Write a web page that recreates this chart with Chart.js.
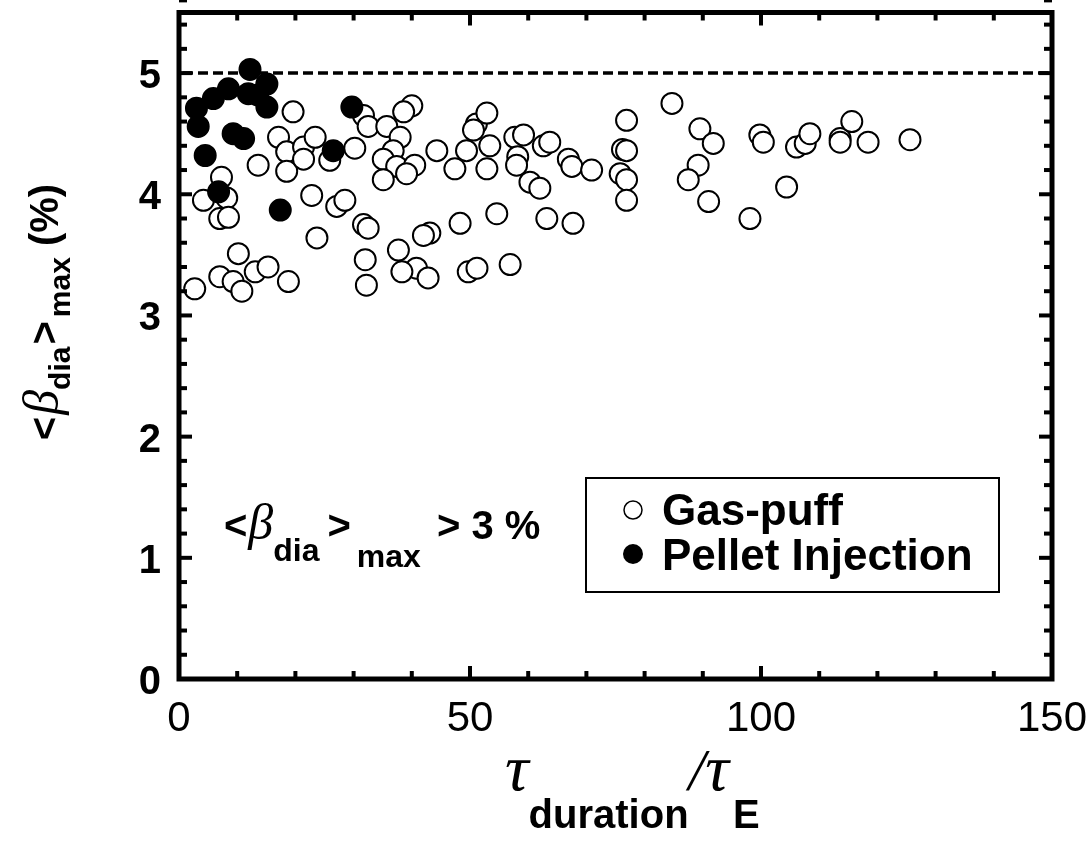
<!DOCTYPE html>
<html><head><meta charset="utf-8">
<script src="https://cdn.jsdelivr.net/npm/chart.js@4/dist/chart.umd.min.js"></script>
<style>html,body{margin:0;padding:0;background:#fff;} #wrap{width:1089px;height:845px;}</style>
</head><body><div id="wrap"><canvas id="c" width="1089" height="845"></canvas></div>
<script>
// Gas-puff discharges (open circles)
const gasX = [19.6,17.1,18.5,13.6,18.5,21.4,23.4,21.4,25.9,7.3,4.2,8.2,7.0,8.5,22.8,27.1,28.5,31.7,32.5,23.7,32.0,32.2,10.2,7.0,9.3,10.8,2.7,13.1,15.3,18.8,31.7,32.5,30.2,
  40.0,38.6,35.7,38.0,36.8,35.1,37.4,40.5,39.1,35.1,44.3,47.4,49.4,51.1,50.6,52.9,53.4,52.9,57.7,59.2,58.2,58.0,60.3,62.0,62.6,63.7,66.9,67.5,70.9,76.9,76.2,76.9,75.8,76.9,76.9,
  54.6,48.3,63.2,67.7,43.1,42.0,37.7,40.8,38.3,42.8,49.7,51.2,56.9,
  84.7,89.5,91.8,89.2,87.5,91.0,98.1,99.8,100.4,104.4,106.1,107.6,108.4,113.6,113.6,115.6,118.4,125.6];
const gasY = [4.68,4.47,4.35,4.24,4.19,4.39,4.47,4.29,4.28,4.14,3.95,3.97,3.80,3.81,3.99,3.90,3.95,3.75,3.72,3.64,3.46,3.25,3.51,3.32,3.28,3.20,3.22,3.36,3.40,3.28,4.65,4.56,4.38,
  4.73,4.68,4.56,4.47,4.36,4.29,4.23,4.24,4.17,4.12,4.36,4.21,4.36,4.58,4.53,4.67,4.40,4.21,4.47,4.49,4.31,4.24,4.10,4.05,4.40,4.43,4.29,4.23,4.20,4.61,4.37,4.36,4.17,4.12,3.95,
  3.84,3.76,3.80,3.76,3.68,3.66,3.54,3.39,3.36,3.31,3.36,3.39,3.42,
  4.75,4.54,4.42,4.24,4.12,3.94,3.80,4.49,4.43,4.06,4.39,4.42,4.50,4.46,4.43,4.60,4.43,4.45];
// Pellet injection discharges (filled circles)
const pelletX = [12.2,15.1,8.5,5.9,3.0,3.3,15.1,11.9,13.5,9.3,11.1,4.5,6.8,17.4,29.7,26.5];
const pelletY = [5.03,4.91,4.87,4.79,4.71,4.56,4.72,4.83,4.82,4.50,4.46,4.32,4.02,3.87,4.72,4.36];
const xTickLabels = [0,50,100,150];
const xMinorStep = 10;
const yTickLabels = [0,1,2,3,4,5];
const yMinorStep = 0.2;
const refLineValue = 5;
const seriesNames = ['Gas-puff','Pellet Injection'];

const toPts = (xs, ys) => xs.map((x, i) => ({x: x, y: ys[i]}));

function richText(ctx, x, y, segs, align) {
  // segs: [text, font, dy, gapAfter]
  let total = 0;
  segs.forEach(s => { ctx.font = s[1]; total += ctx.measureText(s[0]).width + (s[3] || 0); });
  let cx = align === 'center' ? x - total / 2 : x;
  segs.forEach(s => {
    ctx.font = s[1];
    ctx.fillText(s[0], cx, y + (s[2] || 0));
    cx += ctx.measureText(s[0]).width + (s[3] || 0);
  });
}

const decor = {
  id: 'decor',
  beforeDatasetsDraw(chart) {
    const ctx = chart.ctx, a = chart.chartArea, ys = chart.scales.y;
    ctx.save();
    ctx.strokeStyle = '#000';
    ctx.lineWidth = 3.5;
    ctx.setLineDash([10, 5]);
    const py = Math.round(ys.getPixelForValue(refLineValue));
    ctx.beginPath(); ctx.moveTo(a.left + 4, py); ctx.lineTo(a.right, py); ctx.stroke();
    ctx.restore();
  },
  afterDraw(chart) {
    const ctx = chart.ctx, a = chart.chartArea, xs = chart.scales.x, ys = chart.scales.y;
    ctx.save();
    ctx.fillStyle = '#000'; ctx.strokeStyle = '#000';
    // frame
    ctx.lineWidth = 5;
    ctx.strokeRect(a.left, a.top, a.right - a.left, a.bottom - a.top);
    // x ticks (inward, bottom & top)
    ctx.lineWidth = 4;
    for (let v = xs.min; v <= xs.max + 1e-9; v += xMinorStep) {
      const px = xs.getPixelForValue(v);
      const major = xTickLabels.includes(Math.round(v));
      const len = major ? 13 : 8;
      ctx.beginPath(); ctx.moveTo(px, a.bottom); ctx.lineTo(px, a.bottom - len); ctx.stroke();
      ctx.beginPath(); ctx.moveTo(px, a.top); ctx.lineTo(px, a.top + len); ctx.stroke();
    }
    for (let k = 0; k <= Math.round(ys.max / yMinorStep); k++) {
      const v = k * yMinorStep;
      const py = ys.getPixelForValue(v);
      const major = Math.abs(v - Math.round(v)) < 1e-6;
      const len = major ? 13 : 8;
      ctx.beginPath(); ctx.moveTo(a.left, py); ctx.lineTo(a.left + len, py); ctx.stroke();
      ctx.beginPath(); ctx.moveTo(a.right, py); ctx.lineTo(a.right - len, py); ctx.stroke();
    }
    // tick labels
    ctx.textBaseline = 'alphabetic';
    ctx.textAlign = 'center';
    ctx.font = '42px "Liberation Sans", Arial, sans-serif';
    xTickLabels.forEach(v => ctx.fillText(String(v), xs.getPixelForValue(v), 731));
    ctx.textAlign = 'right';
    ctx.font = 'bold 40px "Liberation Sans", Arial, sans-serif';
    yTickLabels.forEach(v => ctx.fillText(String(v), 161, ys.getPixelForValue(v) + 15));
    ctx.textAlign = 'left';
    const B = (s) => 'bold ' + s + 'px "Liberation Sans", Arial, sans-serif';
    const G = (s) => 'italic ' + s + 'px "Liberation Serif", "DejaVu Serif", serif';
    // y axis title
    ctx.save();
    ctx.translate(58, 312);
    ctx.rotate(-Math.PI / 2);
    richText(ctx, 0, 0, [
      ['<', B(40), 0, 2], ['\u03B2', G(50), 0, 0], ['dia', B(30), 12, 2], ['>', B(40), 0, 4],
      ['max', B(30), 12, 0], [' (%)', B(40), 0, 0]
    ], 'center');
    ctx.restore();
    // x axis title
    richText(ctx, 505, 790, [
      ['\u03C4', G(66), 0, 0], ['duration', B(40), 38, 0], ['/', G(60), 0, 0], ['\u03C4', G(66), 0, 4], ['E', B(40), 38, 0]
    ], 'left');
    // annotation
    richText(ctx, 224, 539, [
      ['<', B(40), 0, 1], ['\u03B2', G(50), 0, 0], ['dia', B(32), 22, 8], ['>', B(40), 0, 6],
      ['max', B(32), 28, 16], ['> 3 %', B(40), 0, 0]
    ], 'left');
    // legend box
    ctx.lineWidth = 2;
    ctx.strokeRect(586, 478, 413, 114);
    ctx.lineWidth = 1.5;
    ctx.beginPath(); ctx.arc(633, 510, 9, 0, Math.PI * 2); ctx.fillStyle = '#fff'; ctx.fill(); ctx.stroke();
    ctx.fillStyle = '#000';
    ctx.beginPath(); ctx.arc(633, 554, 10, 0, Math.PI * 2); ctx.fill();
    ctx.font = B(44);
    ctx.fillText(seriesNames[0], 662, 525);
    ctx.fillText(seriesNames[1], 662, 570);
    ctx.restore();
  }
};

new Chart(document.getElementById('c'), {
  type: 'scatter',
  data: {
    datasets: [
      { label: seriesNames[1], data: toPts(pelletX, pelletY), backgroundColor: '#000', borderColor: '#000',
        pointRadius: 10.5, borderWidth: 2, order: 1 },
      { label: seriesNames[0], data: toPts(gasX, gasY), backgroundColor: '#fff', borderColor: '#000',
        pointRadius: 10.5, borderWidth: 2, order: 2 }
    ]
  },
  options: {
    responsive: false, animation: false, events: [],
    layout: { padding: { left: 179, right: 37, top: 10, bottom: 166 } },
    scales: {
      x: { type: 'linear', min: 0, max: 150, display: false },
      y: { type: 'linear', min: 0, max: 5.5, display: false }
    },
    plugins: { legend: { display: false }, tooltip: { enabled: false } }
  },
  plugins: [decor]
});
</script></body></html>
